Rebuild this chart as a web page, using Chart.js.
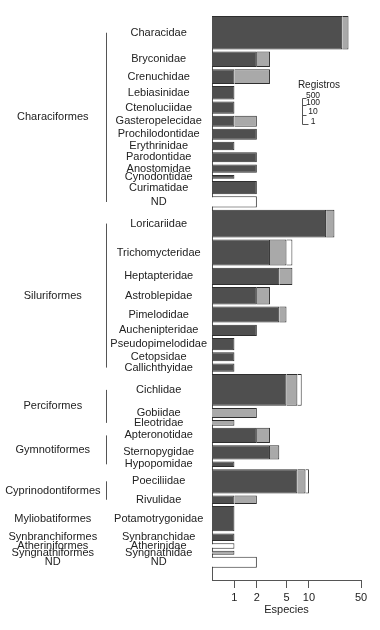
<!DOCTYPE html>
<html><head><meta charset="utf-8">
<script src="https://cdn.jsdelivr.net/npm/chart.js@4.4.1/dist/chart.umd.min.js"></script>
<style>html,body{margin:0;padding:0;background:#fff}canvas{display:block}</style>
</head><body>
<canvas id="c" width="380" height="630"></canvas>
<script>
// ---- data ----
const families = ["Characidae","Bryconidae","Crenuchidae","Lebiasinidae","Ctenoluciidae","Gasteropelecidae","Prochilodontidae","Erythrinidae","Parodontidae","Anostomidae","Cynodontidae","Curimatidae","ND",
  "Loricariidae","Trichomycteridae","Heptapteridae","Astroblepidae","Pimelodidae","Auchenipteridae","Pseudopimelodidae","Cetopsidae","Callichthyidae",
  "Cichlidae","Gobiidae","Eleotridae",
  "Apteronotidae","Sternopygidae","Hypopomidae",
  "Poeciliidae","Rivulidae",
  "Potamotrygonidae","Synbranchidae","Atherinidae","Syngnathidae","ND"];
const orders = ["Characiformes","Siluriformes","Perciformes","Gymnotiformes","Cyprinodontiformes","Myliobatiformes","Synbranchiformes","Atheriniformes","Syngnathiformes","ND"];
const orderSizes = [13, 9, 3, 3, 2, 1, 1, 1, 1, 1];
const registros = [2500, 34, 28, 20, 15, 11, 11, 6, 9, 6, 2, 20, 12,
  650, 430, 52, 52, 38, 12, 15, 7, 6,
  1800, 9, 3,
  32, 25, 3,
  280, 6,
  360, 5, 3, 2, 11];
const especiesDark = [28, 2, 1, 1, 1, 1, 2, 1, 2, 2, 1, 2, null,
  17, 3, 4, 2, 4, 2, 1, 1, 1,
  5, null, null,
  2, 3, 1,
  7, 1,
  1, 1, null, null, null];
const especiesLight = [6, 1, 2, null, null, 1, null, null, null, null, null, null, null,
  5, 2, 2, 1, 1, null, null, null, null,
  2, 2, 1,
  1, 1, null,
  2, 1,
  null, null, null, 1, null];
const especiesWhite = [null, null, null, null, null, null, null, null, null, null, null, null, 2,
  null, 1, null, null, null, null, null, null, null,
  1, null, null,
  null, null, null,
  1, null,
  null, null, 1, null, 2];
const xTicks = [1, 2, 5, 10, 50];
const legendRegistros = [500, 100, 10, 1];

// ---- derived layout (bar thickness from number of records) ----
const GAP = 2.1;
const thick = n => 1 + 9.5 * Math.log10(n);
const centers = [];
let pos = 0;
registros.forEach(n => { const t = thick(n); centers.push(pos + t / 2); pos += t + GAP; });
const yMax = pos - GAP + 12.3;
const orderCenters = [];
{ let k = 0; orderSizes.forEach(sz => { orderCenters.push((centers[k] + centers[k + sz - 1]) / 2); k += sz; }); }

const FONT = "'Liberation Sans', Arial, Helvetica, sans-serif";
Chart.defaults.font.family = FONT;
Chart.defaults.color = '#222';

class VarBarController extends Chart.BarController {
  static id = 'varbar';
  static defaults = Chart.BarController.defaults;
  static overrides = Chart.BarController.overrides;
  _calculateBarIndexPixels(index, ruler) {
    const s = this._cachedMeta.iScale;
    const v = this.getParsed(index)[s.axis];
    const t = thick(registros[index]) / 2;
    const a = s.getPixelForValue(v - t), b = s.getPixelForValue(v + t);
    return { base: Math.min(a, b), head: Math.max(a, b), center: s.getPixelForValue(v), size: Math.abs(b - a), ratio: 1 };
  }
}
Chart.register(VarBarController);

const decor = {
  id: 'decor',
  afterDraw(chart) {
    const ctx = chart.ctx, y = chart.scales.y, yo = chart.scales.yo, ca = chart.chartArea;
    ctx.save();
    ctx.strokeStyle = '#555';
    ctx.lineWidth = 1;
    let k = 0;
    const bxo = Math.round(yo.right - 4) + 0.5;
    orderSizes.forEach(sz => {
      if (sz > 1) {
        ctx.beginPath();
        ctx.moveTo(bxo, y.getPixelForValue(centers[k]));
        ctx.lineTo(bxo, y.getPixelForValue(centers[k + sz - 1]));
        ctx.stroke();
      }
      k += sz;
    });
    // Registros legend
    const ppu = Math.abs(y.getPixelForValue(1) - y.getPixelForValue(0));
    const bx = Math.round(ca.left + 90) + 0.5;
    const by = ca.top + 108;
    const tys = legendRegistros.map(n => by - (thick(n) - thick(1)) * ppu);
    ctx.beginPath();
    ctx.moveTo(bx, Math.round(tys[0]) + 0.5);
    ctx.lineTo(bx, Math.round(by) + 0.5);
    tys.forEach((ty, i) => {
      const yy = Math.round(ty) + 0.5;
      ctx.moveTo(bx, yy);
      ctx.lineTo(bx + (i === tys.length - 1 ? 6 : 4), yy);
    });
    ctx.stroke();
    ctx.fillStyle = '#222';
    ctx.textAlign = 'center';
    ctx.textBaseline = 'middle';
    ctx.font = '8.5px ' + FONT;
    legendRegistros.forEach((n, i) => ctx.fillText(String(n), bx + 10.5, tys[i] - 2.5));
    ctx.font = '10px ' + FONT;
    ctx.fillText('Registros', bx + 16.5, tys[0] - 13.4);
    ctx.restore();
  }
};

const mk = (vals, bg, label) => ({
  label,
  data: families.map((f, i) => ({ x: vals[i], y: centers[i] })),
  backgroundColor: bg,
  borderColor: '#2e2e2e',
  borderWidth: 1,
  stack: 's'
});

new Chart(document.getElementById('c'), {
  type: 'varbar',
  data: {
    datasets: [
      mk(especiesDark, '#4f4f4f', 'dark'),
      mk(especiesLight, '#a9a9a9', 'light'),
      mk(especiesWhite, '#ffffff', 'white')
    ]
  },
  options: {
    indexAxis: 'y',
    responsive: false,
    animation: false,
    devicePixelRatio: 1,
    layout: { padding: { top: 16, right: 19, bottom: 0, left: 0 } },
    plugins: { legend: { display: false }, tooltip: { enabled: false } },
    scales: {
      x: {
        type: 'logarithmic', min: 0.5, max: 50, stacked: true,
        afterBuildTicks: s => { s.ticks = xTicks.map(v => ({ value: v })); },
        afterFit: s => { s.height = 50; },
        grid: { drawOnChartArea: false, tickLength: 8, color: '#555' },
        border: { color: '#555' },
        ticks: { autoSkip: false, maxRotation: 0, padding: 3, color: '#222', font: { size: 11 }, callback: v => String(v) },
        title: { display: true, text: 'Especies', color: '#222', font: { size: 11 }, padding: { top: 0, bottom: 13 } }
      },
      y: {
        type: 'linear', position: 'left', weight: 0, reverse: true, min: 0, max: yMax, offset: false, stacked: true,
        afterBuildTicks: s => { s.ticks = centers.map(v => ({ value: v })); },
        afterFit: s => { s.width = 102; },
        grid: { display: true, drawOnChartArea: false, drawTicks: false, offset: false },
        border: { color: '#555' },
        ticks: { autoSkip: false, crossAlign: 'center', padding: 5, color: '#222', font: { size: 11 }, callback: (v, i) => families[i] }
      },
      yo: {
        type: 'linear', position: 'left', weight: 1, reverse: true, min: 0, max: yMax, offset: false,
        afterBuildTicks: s => { s.ticks = orderCenters.map(v => ({ value: v })); },
        afterFit: s => { s.width = 110; },
        grid: { display: false, drawTicks: false },
        border: { display: false },
        ticks: { autoSkip: false, crossAlign: 'center', padding: 9.5, color: '#222', font: { size: 11 }, callback: (v, i) => orders[i] }
      }
    }
  },
  plugins: [decor]
});
</script>
</body></html>
